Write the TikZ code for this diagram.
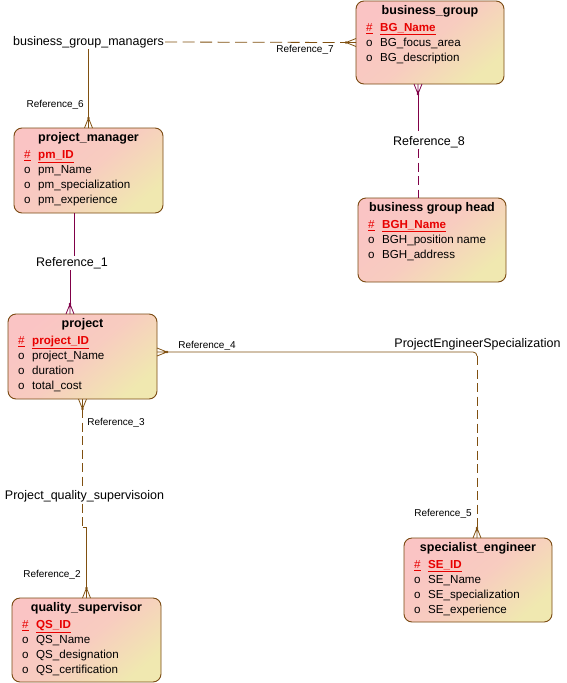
\documentclass[tikz,border=0pt]{standalone}
\usepackage{fontspec}
\setmainfont{Liberation Sans}
\usetikzlibrary{calc}
\definecolor{pinkc}{RGB}{250,196,196}
\definecolor{yelc}{RGB}{240,232,176}
\definecolor{brd}{RGB}{122,74,18}
\definecolor{lnb}{RGB}{128,80,16}
\definecolor{lnm}{RGB}{128,0,72}
\definecolor{keyred}{RGB}{232,0,0}
\tikzset{
  entity/.style 2 args={draw=brd, line width=0.9pt, rounded corners=8pt,
    top color=pinkc, bottom color=yelc, middle color=pinkc!78!yelc, shading angle=40,
    minimum width=#1, minimum height=#2, inner sep=0pt, outer sep=0pt},
  ttl/.style={font=\fontsize{12.5}{14}\selectfont\bfseries, inner sep=0pt},
  attrt/.style={font=\fontsize{11.6}{14}\selectfont, anchor=west, inner sep=0pt,
    text height=8.5pt, text depth=2.5pt},
  keyt/.style={attrt, text=keyred, font=\fontsize{11.6}{14}\selectfont\bfseries},
  biglbl/.style={font=\fontsize{12.5}{14}\selectfont, inner sep=1pt},
  smalllbl/.style={font=\fontsize{10}{12}\selectfont, inner sep=1pt},
  conn/.style={line width=0.8pt},
  vdash/.style={dash pattern=on 9pt off 4.5pt},
  hdash/.style={dash pattern=on 12pt off 5.5pt}
}
\newcommand\crowfoot[3]{%
  \begin{scope}[shift={(#1)}, x=1pt, y=1pt, rotate=#2]
    \draw[#3, line width=0.8pt] (0,4) -- (10,0) -- (0,-4) (0,0) -- (10,0);
    \fill[#3] (10,0) circle (1.4pt);
  \end{scope}}
\newcommand\enttitle[2]{\node[ttl] (#1t) at ($(#1.north)+(0,10.5)$) {#2};}
\newcommand\entkey[2]{%
  \node[keyt, font=\fontsize{11.6}{14}\selectfont] (#1kh) at ($(#1.north west)+(10,27.5)$) {\underline{\#}};
  \node[keyt] (#1k) at ($(#1.north west)+(24,27.5)$) {\underline{#2}};}
\newcommand\entattr[3]{%
  \node[attrt] (#1o#2) at ($(#1.north west)+(10,{27.5+15*#2})$) {o};
  \node[attrt] (#1a#2) at ($(#1.north west)+(24,{27.5+15*#2})$) {#3};}
\begin{document}
\begin{tikzpicture}[x=1pt, y=-1pt]
\fill[white] (0,0) rectangle (566,683);
\useasboundingbox (0,0) rectangle (566,683);

% entities
\node[entity={148pt}{83pt}] (bg) at (430,42.5) {};
\enttitle{bg}{business\_group}
\entkey{bg}{BG\_Name}
\entattr{bg}{1}{BG\_focus\_area}
\entattr{bg}{2}{BG\_description}

\node[entity={149pt}{85pt}] (pm) at (88.5,170.5) {};
\enttitle{pm}{project\_manager}
\entkey{pm}{pm\_ID}
\entattr{pm}{1}{pm\_Name}
\entattr{pm}{2}{pm\_specialization}
\entattr{pm}{3}{pm\_experience}

\node[entity={148pt}{84pt}] (bgh) at (432,240) {};
\enttitle{bgh}{business group head}
\entkey{bgh}{BGH\_Name}
\entattr{bgh}{1}{BGH\_position name}
\entattr{bgh}{2}{BGH\_address}

\node[entity={149pt}{85pt}] (pr) at (82.5,356.5) {};
\enttitle{pr}{project}
\entkey{pr}{project\_ID}
\entattr{pr}{1}{project\_Name}
\entattr{pr}{2}{duration}
\entattr{pr}{3}{total\_cost}

\node[entity={148pt}{84pt}] (se) at (478,580) {};
\enttitle{se}{specialist\_engineer}
\entkey{se}{SE\_ID}
\entattr{se}{1}{SE\_Name}
\entattr{se}{2}{SE\_specialization}
\entattr{se}{3}{SE\_experience}

\node[entity={149pt}{84pt}] (qs) at (86.5,640) {};
\enttitle{qs}{quality\_supervisor}
\entkey{qs}{QS\_ID}
\entattr{qs}{1}{QS\_Name}
\entattr{qs}{2}{QS\_designation}
\entattr{qs}{3}{QS\_certification}

% Reference_7 / Reference_6 (business_group_managers)
\node[biglbl] (bgm) at (88.5,42) {business\_group\_managers};
\coordinate (f7) at ($(bg.west)+(-10,0)$);
\draw[conn, lnb, hdash] (bgm.east) -- (f7);
\crowfoot{bg.west}{180}{lnb}
\node[smalllbl] (r7) at (305,50) {Reference\_7};
\coordinate (f6) at ($(pm.north)+(0,-10)$);
\draw[conn, lnb] (f6 |- bgm.south) -- (f6);
\crowfoot{pm.north}{90}{lnb}
\node[smalllbl, anchor=east] (r6) at (85,105) {Reference\_6};

% Reference_8
\coordinate (t8) at (bg.south -| 418,0);
\coordinate (f8) at ($(t8)+(0,10)$);
\coordinate (j8) at (418,122);
\coordinate (b8) at (bgh.north -| 418,0);
\draw[conn, lnm] (f8) -- (j8);
\draw[conn, lnm, vdash] (j8) -- (b8);
\crowfoot{t8}{-90}{lnm}
\node[biglbl, fill=white] (r8) at (429,142) {Reference\_8};

% Reference_1
\coordinate (t1) at (pm.south -| 74,0);
\coordinate (e1) at (pr.north -| 70,0);
\coordinate (f1) at ($(e1)+(0,-10)$);
\draw[conn, lnm] (t1) -- (74,262) -- (70,262) -- (f1);
\crowfoot{e1}{90}{lnm}
\node[biglbl, fill=white] (r1) at (72,263) {Reference\_1};

% Reference_4 / Reference_5
\coordinate (e4) at ($(pr.east)+(0,-4.5)$);
\coordinate (f4) at ($(e4)+(10,0)$);
\coordinate (e5) at (se.north -| 477,0);
\coordinate (f5) at ($(e5)+(0,-10)$);
\coordinate (k4) at (f4 -| e5);
\draw[conn, lnb] (f4) -- ($(k4)+(-4,0)$) arc[start angle=90, end angle=0, radius=4pt];
\draw[conn, lnb, vdash] ($(k4)+(0,4)$) -- (f5);
\crowfoot{e4}{0}{lnb}
\crowfoot{e5}{90}{lnb}
\node[smalllbl] (r4) at (207,346) {Reference\_4};
\node[biglbl] (pes) at (477.5,344) {ProjectEngineerSpecialization};
\node[smalllbl] (r5) at (443,514) {Reference\_5};

% Reference_3 / Reference_2
\coordinate (f3) at ($(pr.south)+(0,10)$);
\coordinate (e2) at (qs.north);
\coordinate (f2) at ($(e2)+(0,-10)$);
\draw[conn, lnb, vdash] (f3) -- (f3 |- 0,527);
\draw[conn, lnb] (f3 |- 0,527) -- (f2 |- 0,527) -- (f2);
\crowfoot{pr.south}{-90}{lnb}
\crowfoot{e2}{90}{lnb}
\node[smalllbl] (r3) at (116,423) {Reference\_3};
\node[biglbl, fill=white, inner sep=0pt] (pqs) at (84.5,496) {Project\_quality\_supervisoion};
\node[smalllbl] (r2) at (52,575) {Reference\_2};
\end{tikzpicture}
\end{document}
